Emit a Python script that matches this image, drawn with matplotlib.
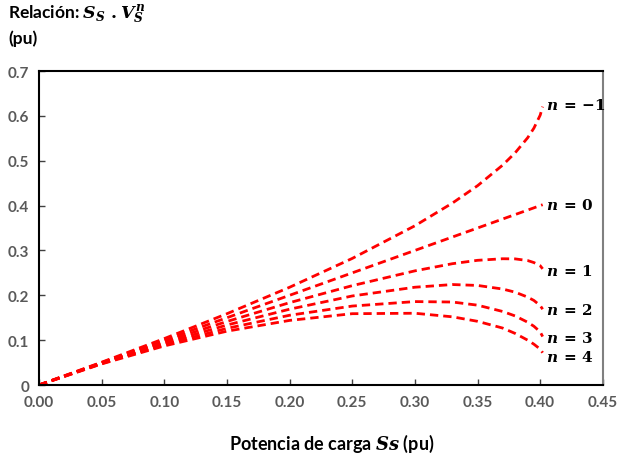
import numpy as np
import matplotlib.pyplot as plt

plt.rcParams['font.family'] = ['Lato', 'DejaVu Sans']
plt.rcParams['mathtext.fontset'] = 'custom'
plt.rcParams['mathtext.it'] = 'DejaVu Serif:italic:bold'
plt.rcParams['mathtext.rm'] = 'DejaVu Serif:bold'
plt.rcParams['mathtext.bf'] = 'DejaVu Serif:bold'

# load power Ss (pu) and the relation Ss * Vs^n
ss = [0, 0.05, 0.10, 0.15, 0.20, 0.25, 0.30, 0.33, 0.35, 0.37, 0.38, 0.39, 0.395, 0.40, 0.402]
n_m1 = [0, 0.0508, 0.1035, 0.1589, 0.2179, 0.2822, 0.3550, 0.4057, 0.4443, 0.4901, 0.5176, 0.5512, 0.5727, 0.6015, 0.6206]
n_0 = [0, 0.05, 0.10, 0.15, 0.20, 0.25, 0.30, 0.33, 0.35, 0.37, 0.38, 0.39, 0.395, 0.40, 0.402]
n_1 = [0, 0.0492, 0.0966, 0.1416, 0.1836, 0.2215, 0.2545, 0.2705, 0.2780, 0.2815, 0.2812, 0.2775, 0.2730, 0.2660, 0.2590]
n_2 = [0, 0.0485, 0.0933, 0.1337, 0.1690, 0.1985, 0.2180, 0.2240, 0.2220, 0.2140, 0.2070, 0.1960, 0.1885, 0.1772, 0.1690]
n_3 = [0, 0.0477, 0.0902, 0.1263, 0.1555, 0.1760, 0.1860, 0.1850, 0.1780, 0.1640, 0.1540, 0.1400, 0.1310, 0.1185, 0.1080]
n_4 = [0, 0.0470, 0.0871, 0.1200, 0.1440, 0.1590, 0.1600, 0.1520, 0.1420, 0.1270, 0.1150, 0.1000, 0.0910, 0.0800, 0.0720]

series = [n_m1, n_0, n_1, n_2, n_3, n_4]
labels = ['-1', '0', '1', '2', '3', '4']
label_y = [0.625, 0.403, 0.256, 0.169, 0.107, 0.064]

fig = plt.figure(figsize=(6.17, 4.56), dpi=100)
ax = fig.add_axes([0.0632, 0.1535, 0.9138, 0.6885])

for ys in series:
    ax.plot(ss, ys, color='#ff0000', lw=2.0, linestyle=(0, (3, 1.8)))

for lab, ly in zip(labels, label_y):
    ax.text(0.405, ly, r'$n\,=\,{' + lab + '}$', fontsize=11,
            ha='left', va='center', color='black')

ax.set_xlim(0, 0.45)
ax.set_ylim(0, 0.7)
ax.set_xticks(np.arange(0, 0.451, 0.05))
ax.set_xticklabels(['%.2f' % v for v in np.arange(0, 0.451, 0.05)])
ax.set_yticks(np.arange(0, 0.71, 0.1))
ax.set_yticklabels(['0'] + ['%.1f' % v for v in np.arange(0.1, 0.71, 0.1)])
ax.tick_params(direction='in', length=4, width=1, colors='#404040',
               labelcolor='#595959', labelsize=11, pad=7)
for lbl in ax.get_xticklabels() + ax.get_yticklabels():
    lbl.set_fontweight('bold')

for s in ['left', 'bottom', 'top']:
    ax.spines[s].set_color('black')
    ax.spines[s].set_linewidth(1.5)
ax.spines['right'].set_color('#808080')
ax.spines['right'].set_linewidth(1.5)

fig.text(0.013, 0.968, r'Relación: $S_S\ .V_S^n$', fontsize=12.5,
         fontweight='bold', ha='left', va='center')
fig.text(0.013, 0.915, '(pu)', fontsize=12.5, fontweight='bold', ha='left', va='center')
fig.text(0.537, 0.026, r'Potencia de carga $Ss$ (pu)', fontsize=13,
         fontweight='bold', ha='center', va='center')

fig.savefig('out.png', dpi=100)
